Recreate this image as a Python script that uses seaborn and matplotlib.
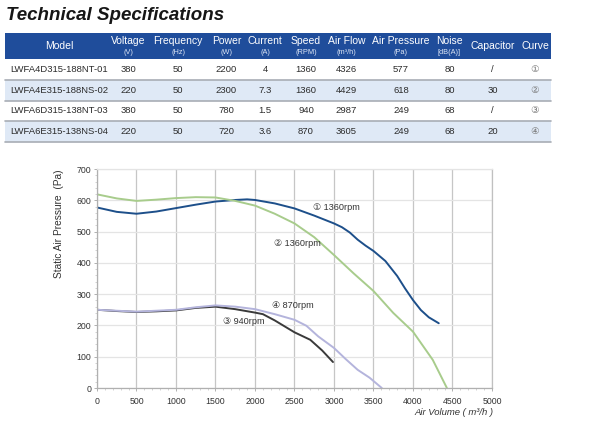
import matplotlib
matplotlib.use('Agg')
import matplotlib.pyplot as plt
import seaborn as sns
import pandas as pd
from matplotlib.patches import Rectangle
from matplotlib.ticker import MultipleLocator

sns.set_theme(style='whitegrid')
plt.rcParams['font.family'] = ['Liberation Sans', 'DejaVu Sans']

# ---------------- table data ----------------
header_names = ["Model", "Voltage", "Frequency", "Power", "Current", "Speed",
                "Air Flow", "Air Pressure", "Noise", "Capacitor", "Curve"]
header_units = ["", "(V)", "(Hz)", "(W)", "(A)", "(RPM)", "(m³/h)", "(Pa)",
                "[dB(A)]", "", ""]
models = ["LWFA4D315-188NT-01", "LWFA4E315-188NS-02",
          "LWFA6D315-138NT-03", "LWFA6E315-138NS-04"]
voltage = ["380", "220", "380", "220"]
frequency = ["50", "50", "50", "50"]
power = ["2200", "2300", "780", "720"]
current = ["4", "7.3", "1.5", "3.6"]
speed = ["1360", "1360", "940", "870"]
air_flow = ["4326", "4429", "2987", "3605"]
air_pressure = ["577", "618", "249", "249"]
noise = ["80", "80", "68", "68"]
capacitor = ["/", "30", "/", "20"]
curve_marks = ["①", "②", "③", "④"]

# ---------------- curve data ----------------
c1_x = [0, 250, 500, 750, 1000, 1250, 1500, 1750, 1900, 2000, 2250, 2500, 2750,
        3000, 3100, 3200, 3300, 3400, 3500, 3650, 3800, 3900, 4000, 4100, 4200, 4326]
c1_y = [577, 563, 557, 564, 575, 586, 596, 601, 603, 601, 590, 574, 551,
        526, 514, 497, 474, 455, 438, 406, 358, 318, 281, 249, 226, 207]
c2_x = [0, 250, 500, 750, 1000, 1250, 1500, 1750, 2000, 2250, 2500, 2750,
        3000, 3250, 3500, 3750, 4000, 4250, 4429]
c2_y = [619, 606, 598, 602, 607, 610, 609, 598, 583, 557, 526, 482,
        425, 366, 310, 240, 180, 90, 0]
c3_x = [0, 250, 500, 750, 1000, 1250, 1500, 1750, 2000, 2100, 2250, 2500,
        2700, 2850, 2987]
c3_y = [250, 246, 243, 245, 248, 256, 260, 252, 241, 236, 216, 178,
        154, 120, 83]
c4_x = [0, 250, 500, 750, 1000, 1250, 1500, 1750, 2000, 2250, 2500, 2650,
        2800, 3000, 3150, 3300, 3450, 3605]
c4_y = [250, 247, 244, 247, 250, 258, 264, 260, 252, 236, 218, 199,
        165, 128, 92, 58, 33, 0]
curve_labels = ["① 1360rpm", "② 1360rpm", "③ 940rpm", "④ 870rpm"]
label_x = [2730, 2240, 1599, 2211]
label_y = [578, 463, 211, 263]
colors = ["#1d4f8a", "#a8cc8c", "#3a3a3a", "#b4b4dc"]

fig = plt.figure(figsize=(6.0, 4.21), dpi=100)
fig.patch.set_facecolor('white')

# background axes in pixel coordinates
bg = fig.add_axes([0, 0, 1, 1])
bg.set_xlim(0, 600)
bg.set_ylim(421, 0)
bg.axis('off')

bg.text(6, 15, "Technical Specifications", fontsize=13.5, fontweight='heavy',
        style='italic', color='#161616', va='center', ha='left')

tab_l, tab_r = 5, 551
head_top, head_bot = 32.5, 59
row_edges = [59, 80, 100.5, 121, 141.5]
bg.add_patch(Rectangle((tab_l, head_top), tab_r - tab_l, head_bot - head_top,
                       facecolor='#1f4d9b', edgecolor='none'))
for i in range(4):
    if i % 2 == 1:
        bg.add_patch(Rectangle((tab_l, row_edges[i]), tab_r - tab_l,
                               row_edges[i + 1] - row_edges[i],
                               facecolor='#dfe9f6', edgecolor='none'))
for e in row_edges[1:]:
    bg.plot([tab_l, tab_r], [e, e], color='#a8adb5', lw=1.2)

col_x = [59, 128, 178, 226.5, 265, 306, 346.5, 401, 449.5, 492.5, 535]
for cx, name, unit in zip(col_x, header_names, header_units):
    if unit:
        bg.text(cx, 41.5, name, color='white', fontsize=7.5, ha='center', va='center')
        bg.text(cx, 52.5, unit, color='#dde6f5', fontsize=5.3, ha='center', va='center')
    else:
        bg.text(cx, 46, name, color='white', fontsize=7.5, ha='center', va='center')

columns = [voltage, frequency, power, current, speed, air_flow, air_pressure,
           noise, capacitor, curve_marks]
for i in range(4):
    yc = (row_edges[i] + row_edges[i + 1]) / 2
    bg.text(10, yc, models[i], fontsize=6.8, color='#2b2b2b', ha='left', va='center')
    for cx, col in zip(col_x[1:], columns):
        clr = '#777777' if col is curve_marks else '#2b2b2b'
        bg.text(cx, yc, col[i], fontsize=6.8, color=clr, ha='center', va='center')

# ---------------- chart ----------------
ax = fig.add_axes([97 / 600, 33 / 421, 395 / 600, 219 / 421])
ax.set_facecolor('white')

frames = []
for name, xs, ys in zip(curve_labels, [c1_x, c2_x, c3_x, c4_x],
                        [c1_y, c2_y, c3_y, c4_y]):
    frames.append(pd.DataFrame({"flow": xs, "pressure": ys, "curve": name}))
df = pd.concat(frames, ignore_index=True)

sns.lineplot(data=df, x="flow", y="pressure", hue="curve",
             palette=dict(zip(curve_labels, colors)), estimator=None,
             sort=False, legend=False, linewidth=1.4, ax=ax)

for t, lx, ly in zip(curve_labels, label_x, label_y):
    ax.text(lx, ly, t, fontsize=6.6, color='#333333', ha='left', va='center',
            family=['Liberation Sans', 'DejaVu Sans'])

ax.set_xlim(0, 5000)
ax.set_ylim(0, 700)
ax.xaxis.set_major_locator(MultipleLocator(500))
ax.yaxis.set_major_locator(MultipleLocator(100))
ax.xaxis.set_minor_locator(MultipleLocator(100))
ax.yaxis.set_minor_locator(MultipleLocator(20))
ax.grid(False)
ax.grid(True, axis='x', which='major', color='#c6c6c6', lw=0.9)
ax.grid(True, axis='y', which='major', color='#e4e4e4', lw=0.9)
ax.set_axisbelow(True)
for s, c in [('left', '#b0b0b0'), ('bottom', '#b0b0b0'),
             ('right', '#c0c0c0'), ('top', '#e4e4e4')]:
    ax.spines[s].set_color(c)
    ax.spines[s].set_linewidth(0.9)
ax.tick_params(axis='both', which='major', bottom=True, left=True, length=2.5,
               width=0.7, color='#b0b0b0', labelsize=6.3, labelcolor='#333333')
ax.tick_params(axis='x', which='major', pad=4)
ax.tick_params(axis='y', which='major', pad=1.5)
ax.tick_params(axis='both', which='minor', bottom=True, left=True, length=1.5,
               width=0.5, color='#c0c0c0')
ax.set_xlabel("")
ax.set_ylabel("")

bg.text(59.5, 170, "Static Air Pressure  (Pa)", rotation=90, fontsize=7.3,
        color='#333333', ha='center', va='top')
bg.text(493, 412.5, "Air Volume ( m³/h )", fontsize=6.8, style='italic',
        color='#333333', ha='right', va='center')

fig.savefig("out.png", dpi=100, facecolor='white')
